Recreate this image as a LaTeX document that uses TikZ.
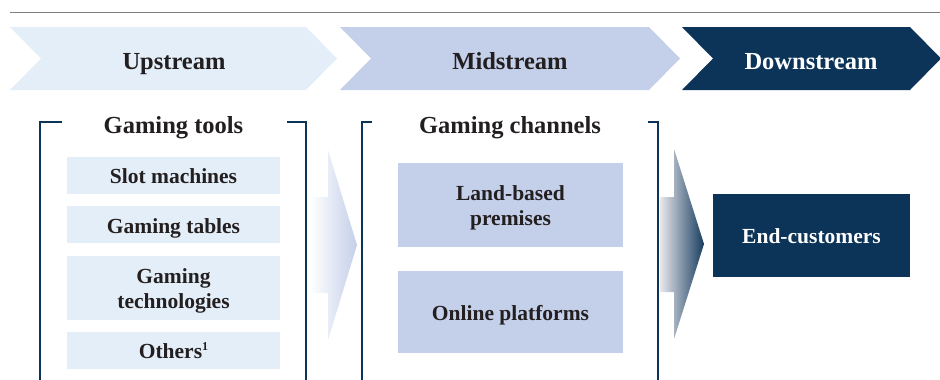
\documentclass[tikz,border=0pt]{standalone}
\usepackage{fontspec}
\setmainfont{Liberation Serif}
\usepackage{tikz}
\usetikzlibrary{positioning}
\definecolor{chainnavy}{HTML}{0C3358}
\definecolor{chainlight}{HTML}{E4EEF8}
\definecolor{chainmid}{HTML}{C4CFE9}
\definecolor{chaintext}{HTML}{231F20}
\definecolor{chaingray}{HTML}{E8E8EC}

\begin{document}
\begin{tikzpicture}[
  x=1pt, y=-1pt,
  stagelabel/.style={anchor=base, font=\fontsize{24.5}{28}\selectfont\bfseries, text=chaintext},
  grouptitle/.style={anchor=base, font=\fontsize{24.5}{28}\selectfont\bfseries, text=chaintext},
  toolbox/.style={rectangle, fill=chainlight, minimum width=213pt, minimum height=37pt, inner sep=0pt, text height=16.5pt, text depth=0pt, font=\fontsize{21.5}{25}\selectfont\bfseries, text=chaintext},
  channelbox/.style={rectangle, fill=chainmid, minimum width=225pt, minimum height=83pt, inner sep=0pt, text height=16pt, text depth=0pt, font=\fontsize{21.5}{25}\selectfont\bfseries, text=chaintext},
  twolines/.style={text height=33pt, text depth=17pt},
  bracketline/.style={draw=chainnavy, line width=2pt}
]
  \useasboundingbox (0,0) rectangle (940,380);

  % rule under the heading
  \draw[black!50, line width=1pt] (10,12) -- (940,12);

  % stage chevrons
  \fill[chainlight] (10,27) -- (306,27) -- (337,58.5) -- (306,90) -- (10,90) -- (41,58.5) -- cycle;
  \fill[chainmid] (340,27) -- (649,27) -- (680,58.5) -- (649,90) -- (340,90) -- (371,58.5) -- cycle;
  \fill[chainnavy] (682,27) -- (910,27) -- (941,58.5) -- (910,90) -- (682,90) -- (713,58.5) -- cycle;
  \node[stagelabel] (up) at (174,69) {Upstream};
  \node[stagelabel] (mid) at (510,69) {Midstream};
  \node[stagelabel, text=white] (down) at (811,69) {Downstream};

  % brackets round the two groups
  \draw[bracketline] (62,122) -- (40,122) -- (40,382);
  \draw[bracketline] (287,122) -- (306,122) -- (306,382);
  \draw[bracketline] (372,122) -- (362,122) -- (362,382);
  \draw[bracketline] (648,122) -- (658,122) -- (658,382);
  \node[grouptitle] (tools) at (173.5,133) {Gaming tools};
  \node[grouptitle] (channels) at (510,133) {Gaming channels};

  % gaming tools
  \node[toolbox] (slot) at (173.5,175.5) {Slot machines};
  \node[toolbox, below=12pt of slot] (tables) {Gaming tables};
  \node[toolbox, twolines, minimum height=64pt, below=12pt of tables] (tech) {
    \begin{tabular}{c}
      Gaming \\
      technologies
    \end{tabular}
  };
  \node[toolbox, below=12pt of tech] (others) {Others{\fontsize{12}{12}\selectfont\raisebox{8pt}{1}}};

  % gaming channels
  \node[channelbox, twolines, minimum height=84pt] (land) at (510.5,205) {
    \begin{tabular}{c}
      Land-based \\
      premises
    \end{tabular}
  };
  \node[channelbox, minimum height=82pt, below=24pt of land] (online) {Online platforms};

  % end customers
  \node[channelbox, fill=chainnavy, text=white, minimum width=197pt] (customers) at (811.5,235.5) {End-customers};

  % shaded block arrows between the stages
  \shade[left color=white, right color=chainmid] (310,197) -- (328,197) -- (328,150) -- (357,245) -- (328,340) -- (328,293) -- (310,293) -- cycle;
  \shade[left color=chaingray, right color=chainnavy!95] (660,197) -- (674,197) -- (674,149) -- (704,244) -- (674,339) -- (674,292) -- (660,292) -- cycle;
\end{tikzpicture}
\end{document}
